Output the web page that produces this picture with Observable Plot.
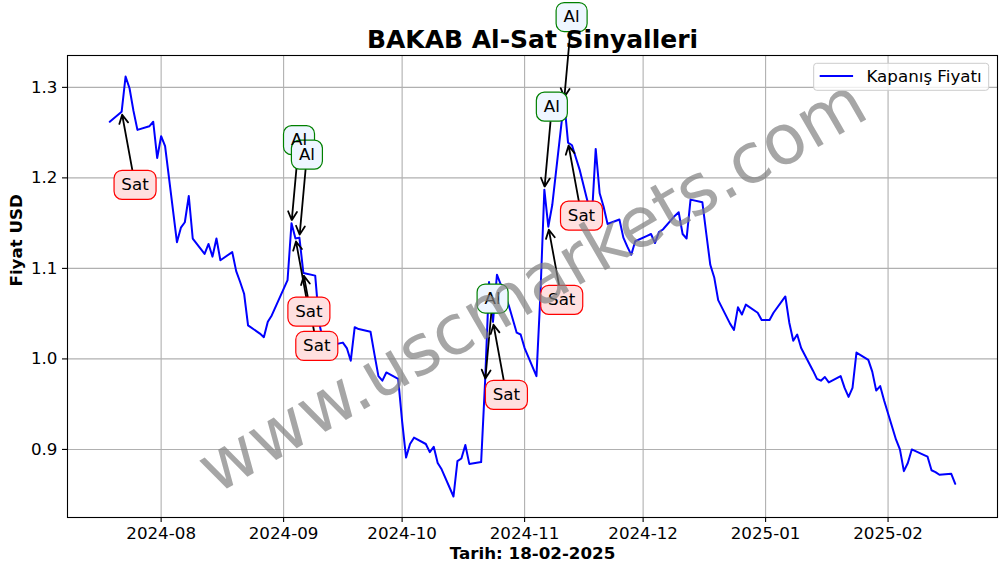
<!DOCTYPE html>
<html><head><meta charset="utf-8">
<script src="https://cdn.jsdelivr.net/npm/d3@7"></script>
<script src="https://cdn.jsdelivr.net/npm/@observablehq/plot@0.6"></script>
<style>body{margin:0;background:#fff} #chart svg{font-family:"DejaVu Sans";display:block}</style>
</head><body><div id="chart"></div>
<script>
// ---- data ----
const dates = [
"2024-07-19","2024-07-22","2024-07-23","2024-07-24","2024-07-25","2024-07-26","2024-07-29","2024-07-30","2024-07-31",
"2024-08-01","2024-08-02","2024-08-05","2024-08-06","2024-08-07","2024-08-08","2024-08-09","2024-08-12","2024-08-13",
"2024-08-14","2024-08-15","2024-08-16","2024-08-19","2024-08-20","2024-08-21","2024-08-22","2024-08-23","2024-08-26",
"2024-08-27","2024-08-28","2024-08-29","2024-09-02","2024-09-03","2024-09-04","2024-09-05","2024-09-06","2024-09-09",
"2024-09-10","2024-09-11","2024-09-12","2024-09-13","2024-09-16","2024-09-17","2024-09-18","2024-09-19","2024-09-20",
"2024-09-23","2024-09-24","2024-09-25","2024-09-26","2024-09-27","2024-09-30","2024-10-01","2024-10-02","2024-10-03",
"2024-10-04","2024-10-07","2024-10-08","2024-10-09","2024-10-10","2024-10-11","2024-10-14","2024-10-15","2024-10-16",
"2024-10-17","2024-10-18","2024-10-21","2024-10-22","2024-10-23","2024-10-24","2024-10-25","2024-10-28","2024-10-30",
"2024-10-31","2024-11-01","2024-11-04","2024-11-05","2024-11-06","2024-11-07","2024-11-08","2024-11-11","2024-11-12",
"2024-11-13","2024-11-14","2024-11-15","2024-11-18","2024-11-19","2024-11-20","2024-11-21","2024-11-22","2024-11-25",
"2024-11-26","2024-11-27","2024-11-28","2024-11-29","2024-12-02","2024-12-03","2024-12-04","2024-12-05","2024-12-06",
"2024-12-09","2024-12-10","2024-12-11","2024-12-12","2024-12-13","2024-12-16","2024-12-17","2024-12-18","2024-12-19",
"2024-12-20","2024-12-23","2024-12-24","2024-12-25","2024-12-26","2024-12-27","2024-12-30","2024-12-31","2025-01-02",
"2025-01-03","2025-01-06","2025-01-07","2025-01-08","2025-01-09","2025-01-10","2025-01-13","2025-01-14","2025-01-15",
"2025-01-16","2025-01-17","2025-01-20","2025-01-21","2025-01-22","2025-01-23","2025-01-24","2025-01-27","2025-01-28",
"2025-01-29","2025-01-30","2025-01-31","2025-02-03","2025-02-04","2025-02-05","2025-02-06","2025-02-07","2025-02-10",
"2025-02-11","2025-02-12","2025-02-13","2025-02-14","2025-02-17","2025-02-18"];
const closes = [
1.262,1.273,1.312,1.299,1.274,1.253,1.257,1.262,1.222,
1.246,1.235,1.129,1.145,1.151,1.180,1.133,1.116,1.127,
1.113,1.133,1.109,1.118,1.097,1.085,1.072,1.037,1.028,
1.024,1.041,1.048,1.087,1.150,1.133,1.134,1.095,1.092,
1.040,1.020,1.018,1.015,1.018,1.012,0.998,1.035,1.033,
1.030,1.005,0.981,0.976,0.985,0.978,0.931,0.891,0.906,
0.913,0.906,0.897,0.903,0.885,0.878,0.848,0.887,0.890,
0.905,0.884,0.886,0.975,1.085,1.041,1.093,1.059,1.029,
1.027,1.012,0.981,1.071,1.187,1.146,1.170,1.286,1.239,
1.236,1.222,1.208,1.155,1.232,1.183,1.168,1.149,1.154,
1.134,1.124,1.115,1.130,1.136,1.138,1.128,1.140,1.143,
1.158,1.162,1.138,1.133,1.176,1.173,1.138,1.104,1.090,
1.065,1.039,1.032,1.057,1.049,1.060,1.051,1.043,1.043,
1.051,1.069,1.040,1.020,1.027,1.012,0.987,0.978,0.976,
0.980,0.974,0.981,0.968,0.958,0.968,1.007,0.999,0.986,
0.965,0.970,0.954,0.911,0.900,0.876,0.885,0.900,0.894,
0.892,0.877,0.875,0.872,0.873,0.862];
const alDates = ["2024-09-03","2024-09-05","2024-10-22","2024-11-06","2024-11-11"];
const satDates = ["2024-07-22","2024-09-04","2024-09-06","2024-10-24","2024-11-07","2024-11-12"];
const alLabel = "Al";
const satLabel = "Sat";
const yTicks = [0.9, 1.0, 1.1, 1.2, 1.3];
const xTickLabels = ["2024-08","2024-09","2024-10","2024-11","2024-12","2025-01","2025-02"];
const titleText = "BAKAB Al-Sat Sinyalleri";
const xLabelText = "Tarih: 18-02-2025";
const yLabelText = "Fiyat USD";
const legendText = "Kapanış Fiyatı";
const watermarkText = "www.uscmarkets.com";

// ---- build tables ----
const DAY = 864e5;
const series = dates.map((d, i) => ({date: new Date(d), close: closes[i]}));
const byDate = new Map(dates.map((d, i) => [d, closes[i]]));
// label offsets (style): days / value units
const AL_OFF = {days: 1.9, value: 0.0917};
const SAT_OFF = {days: 3.4, value: -0.0807};
const mk = (ds, label, off) => ds.map(d => {
  const t = new Date(d), v = byDate.get(d);
  return {date: t, close: v, label, lx: new Date(+t + off.days * DAY), ly: v + off.value};
});
const alSig = mk(alDates, alLabel, AL_OFF);
const satSig = mk(satDates, satLabel, SAT_OFF);
const signals = [...satSig, ...alSig];
const xTicks = xTickLabels.map(s => new Date(s + "-01"));

const [t0, t1] = d3.extent(series, d => +d.date);
const [v0, v1] = d3.extent(series, d => d.close);
const xPad = (t1 - t0) * 0.05, yPad = (v1 - v0) * 0.05;

function roundRect(w, h, r) {
  return {draw(ctx) {
    const x0 = -w/2, y0 = -h/2, x1 = w/2, y1 = h/2;
    ctx.moveTo(x0 + r, y0);
    ctx.lineTo(x1 - r, y0); ctx.arcTo(x1, y0, x1, y0 + r, r);
    ctx.lineTo(x1, y1 - r); ctx.arcTo(x1, y1, x1 - r, y1, r);
    ctx.lineTo(x0 + r, y1); ctx.arcTo(x0, y1, x0, y1 - r, r);
    ctx.lineTo(x0, y0 + r); ctx.arcTo(x0, y0, x0 + r, y0, r);
    ctx.closePath();
  }};
}

const FS = 16.7;
const chart = Plot.plot({
  width: 1006, height: 572,
  marginLeft: 67, marginRight: 9, marginTop: 55, marginBottom: 55,
  style: {fontFamily: "DejaVu Sans", fontSize: FS + "px", background: "white", color: "black"},
  x: {type: "utc", domain: [new Date(t0 - xPad), new Date(t1 + xPad)]},
  y: {domain: [v0 - yPad, v1 + yPad]},
  marks: [
    Plot.gridX({ticks: xTicks, stroke: "#b0b0b0", strokeOpacity: 1, strokeWidth: 1.1}),
    Plot.gridY({ticks: yTicks, stroke: "#b0b0b0", strokeOpacity: 1, strokeWidth: 1.1}),
    Plot.axisX({ticks: xTicks, tickFormat: d3.utcFormat("%Y-%m"), tickSize: 5, tickPadding: 5, fontSize: FS, label: null, stroke: "black", strokeWidth: 1.1}),
    Plot.axisY({ticks: yTicks, tickFormat: d3.format(".1f"), tickSize: 5, tickPadding: 5, fontSize: FS, label: null, stroke: "black", strokeWidth: 1.1}),
    Plot.line(series, {x: "date", y: "close", stroke: "#0000ff", strokeWidth: 2}),
    Plot.arrow(signals, {x1: "lx", y1: "ly", x2: "date", y2: "close", insetStart: 15, insetEnd: 3, stroke: "black", strokeWidth: 1.8, headLength: 8, headAngle: 55}),
    Plot.dot(satSig, {x: "lx", y: "ly", symbol: roundRect(42, 29, 8), fill: "#ffe0e0", stroke: "red", strokeWidth: 1.2}),
    Plot.dot(alSig, {x: "lx", y: "ly", symbol: roundRect(31, 29, 8), fill: "#eef6ff", stroke: "green", strokeWidth: 1.2}),
    Plot.text(signals, {x: "lx", y: "ly", text: "label", fontSize: FS, fill: "black"}),
    Plot.text([watermarkText], {text: d => d, frameAnchor: "middle", rotate: -30, fontSize: 69.4, fill: "#808080", fillOpacity: 0.7}),
    Plot.text([titleText], {text: d => d, frameAnchor: "top", lineAnchor: "bottom", dy: -8, fontSize: 25, fontWeight: "bold", fill: "black"}),
    Plot.text([xLabelText], {text: d => d, frameAnchor: "bottom", lineAnchor: "bottom", dy: 41, fontSize: FS, fontWeight: "bold", fill: "black"}),
    Plot.text([yLabelText], {text: d => d, frameAnchor: "left", lineAnchor: "bottom", rotate: -90, dx: -46, fontSize: FS, fontWeight: "bold", fill: "black"}),
    Plot.frame({stroke: "black", strokeWidth: 1.1})
  ]
});
document.getElementById("chart").appendChild(chart);

// ---- legend (upper right, inside frame) ----
const xr = chart.scale("x").range, yr = chart.scale("y").range;
const legRight = Math.max(...xr) - 8.3, legTop = Math.min(...yr) + 8.3;
const legG = d3.select(chart).append("g").attr("text-anchor", "start");
const legRect = legG.append("rect").attr("fill", "white").attr("fill-opacity", 0.8)
  .attr("stroke", "#cccccc").attr("stroke-width", 1).attr("rx", 3);
const legTxt = legG.append("text").text(legendText)
  .attr("text-anchor", "start").style("font-size", FS + "px").style("font-family", "DejaVu Sans").attr("fill", "black");
const legTw = legTxt.node().getComputedTextLength();
const legW = 6 + 33.4 + 13.4 + legTw + 7, legH = 27;
const legLeft = legRight - legW;
legRect.attr("x", legLeft).attr("y", legTop).attr("width", legW).attr("height", legH);
legG.append("line").attr("x1", legLeft + 6).attr("x2", legLeft + 39.4).attr("y1", legTop + 12.7).attr("y2", legTop + 12.7)
  .attr("stroke", "#0000ff").attr("stroke-width", 2);
legTxt.attr("x", legLeft + 52.8).attr("y", legTop + 18.3);
</script></body></html>
